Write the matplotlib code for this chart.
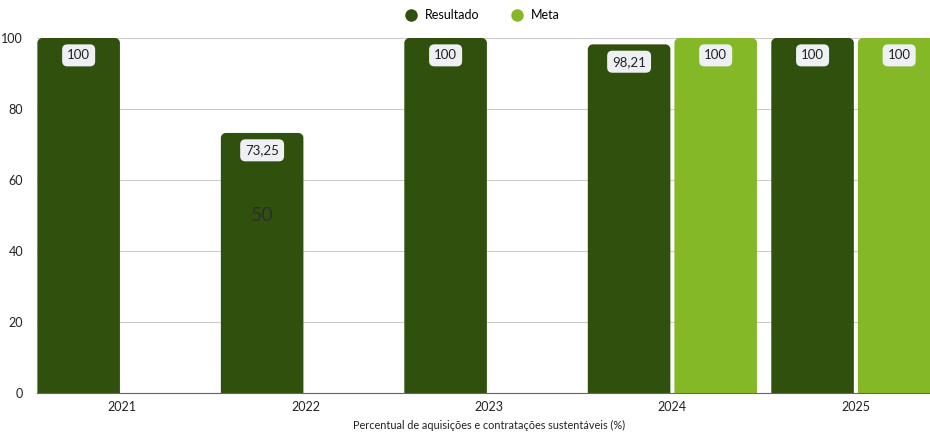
import matplotlib
matplotlib.use("Agg")
import matplotlib.pyplot as plt
from matplotlib.path import Path
from matplotlib.patches import PathPatch
from matplotlib.lines import Line2D

plt.rcParams['font.family'] = ['Lato', 'DejaVu Sans']

years = ["2021", "2022", "2023", "2024", "2025"]
resultado = [100, 73.25, 100, 98.21, 100]
meta = [None, None, None, 100, 100]
series_names = ["Resultado", "Meta"]
colors = ["#30500e", "#85b827"]
xlabel = "Percentual de aquisições e contratações sustentáveis (%)"
yticks = [0, 20, 40, 60, 80, 100]

def fmt(v):
    s = ("%.2f" % v).rstrip("0").rstrip(".")
    return s.replace(".", ",")

fig = plt.figure(figsize=(9.3, 4.32), dpi=100)
ax = fig.add_axes([37/930, 39/432, 1 - 37/930, (393-38)/432])

width = 0.45
offset = 0.236
xs = list(range(len(years)))
ax.set_xlim(-0.463, 4.404)
ax.set_ylim(0, 100)

px_x = (4.404 + 0.463) / (930 - 37)
px_y = 100 / (393 - 38)
r = 5

def rounded_bar(x0, w, h, color):
    rx, ry = r * px_x, r * px_y
    k = 0.5523
    x1 = x0 + w
    verts = [(x0, 0), (x0, h - ry),
             (x0, h - ry + k*ry), (x0 + rx - k*rx, h), (x0 + rx, h),
             (x1 - rx, h),
             (x1 - rx + k*rx, h), (x1, h - ry + k*ry), (x1, h - ry),
             (x1, 0), (x0, 0)]
    codes = [Path.MOVETO, Path.LINETO,
             Path.CURVE4, Path.CURVE4, Path.CURVE4,
             Path.LINETO,
             Path.CURVE4, Path.CURVE4, Path.CURVE4,
             Path.LINETO, Path.CLOSEPOLY]
    p = PathPatch(Path(verts, codes), facecolor=color, edgecolor='none', zorder=3, clip_on=False)
    ax.add_patch(p)

for si, vals in enumerate([resultado, meta]):
    for i, v in enumerate(vals):
        if v is None:
            continue
        cx = xs[i] + (-offset if si == 0 else offset)
        x0 = cx - width/2
        rounded_bar(x0, width, v, colors[si])
        ax.annotate(fmt(v), (cx, v), xytext=(0, -12.5), textcoords='offset points',
                    ha='center', va='center', fontsize=9.5, color='#222222', zorder=5,
                    bbox=dict(boxstyle='round,pad=0.38,rounding_size=0.4', fc='#eef0f3', ec='none'))

# stray label inside 2022 bar
ax.text(1 - offset, 50, "50", ha='center', va='center', fontsize=14, color='#2b2f2b', zorder=4)

ax.set_yticks(yticks)
ax.set_yticklabels([str(t) for t in yticks], fontsize=9, color='#222222')
ax.set_xticks(xs)
ax.set_xticklabels(years, fontsize=9, color='#222222')
ax.tick_params(axis='both', length=0, pad=6)
ax.tick_params(axis='y', pad=10)
ax.grid(axis='y', color='#cccccc', linewidth=0.8, zorder=0)
ax.set_axisbelow(True)
for s in ['top', 'right', 'left']:
    ax.spines[s].set_visible(False)
ax.spines['bottom'].set_color('#666666')
ax.spines['bottom'].set_zorder(6)
fig.text(489/930, (432-425)/432, xlabel, ha='center', va='center', fontsize=7.8, color='#222222')

handles = [Line2D([], [], marker='o', linestyle='none', markersize=9, markerfacecolor=c, markeredgecolor='none') for c in colors]
fig.legend(handles, series_names, loc='center', bbox_to_anchor=(0.515, 0.965), ncol=2, frameon=False,
           fontsize=9, handletextpad=0.1, columnspacing=2.0)

fig.savefig("out.png", dpi=100)
